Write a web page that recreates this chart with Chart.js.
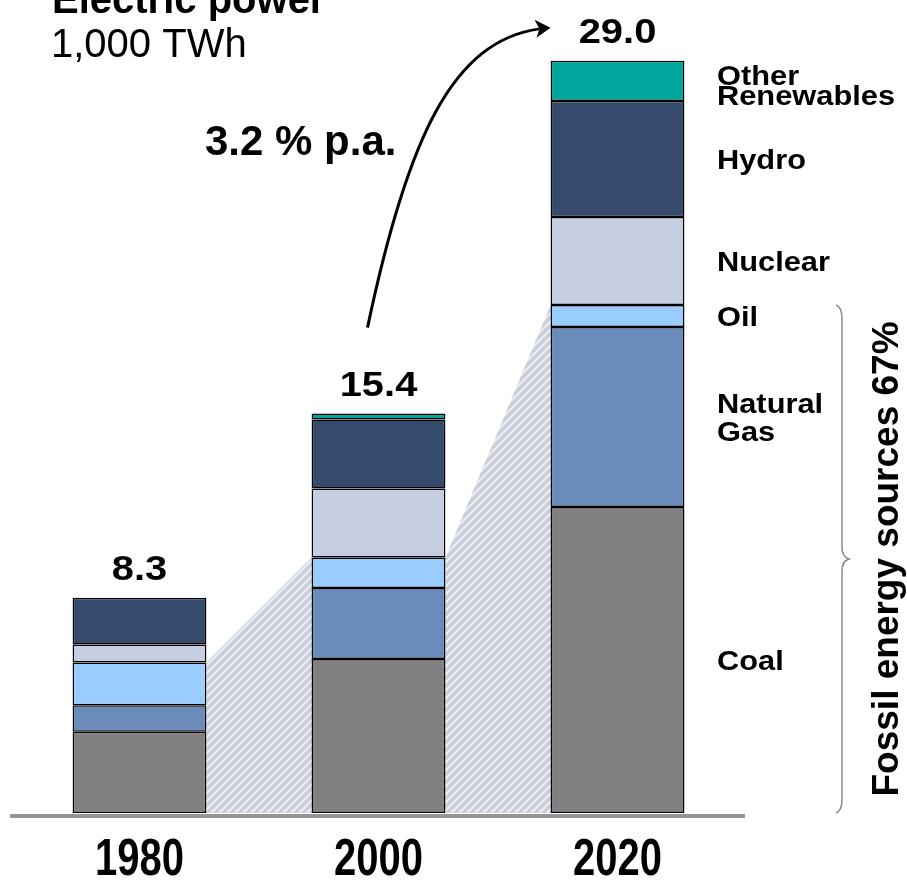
<!DOCTYPE html>
<html>
<head>
<meta charset="utf-8">
<title>Electric power</title>
<script src="https://cdn.jsdelivr.net/npm/chart.js@4.4.1/dist/chart.umd.min.js"></script>
<style>
  html, body { margin: 0; padding: 0; background: #fff; }
  #powerChart { display: block; }
</style>
</head>
<body>
<canvas id="powerChart" width="907" height="880"></canvas>
<script>
// generation by source, 1,000 TWh
const years = ['1980', '2000', '2020']
const coal = [3.13, 5.94, 11.80]
const naturalGas = [1.02, 2.74, 6.94]
const oil = [1.65, 1.17, 0.85]
const nuclear = [0.70, 2.66, 3.39]
const hydro = [1.80, 2.66, 4.47]
const otherRenewables = [null, 0.23, 1.55]

const sourceNames = [['Coal'], ['Natural', 'Gas'], ['Oil'], ['Nuclear'], ['Hydro'], ['Other', 'Renewables']]
const sourceColors = ['#808080', '#6b8cba', '#99ccff', '#c4cee0', '#364b6b', '#00a59b']
const growthLabel = '3.2 % p.a.'
const fossilLabel = 'Fossil energy sources 67%'

const FONT = '"Liberation Sans", Arial, sans-serif'
const series = [coal, naturalGas, oil, nuclear, hydro, otherRenewables]

const totals = years.map((y, i) => series.reduce((s, arr) => s + (arr[i] || 0), 0))
const fossil = years.map((y, i) => coal[i] + naturalGas[i] + oil[i])

function hatchPattern(ctx) {
  const c = document.createElement('canvas')
  c.width = 8
  c.height = 8
  const g = c.getContext('2d')
  g.fillStyle = '#c8ced8'
  g.fillRect(0, 0, 8, 8)
  g.strokeStyle = '#e8ebef'
  g.lineWidth = 2.4
  g.beginPath()
  g.moveTo(-2, 10); g.lineTo(10, -2)
  g.moveTo(-2, 2); g.lineTo(2, -2)
  g.moveTo(6, 10); g.lineTo(10, 6)
  g.stroke()
  return ctx.createPattern(c, 'repeat')
}

const decorations = {
  id: 'decorations',
  beforeDatasetsDraw(chart) {
    const ctx = chart.ctx
    const yScale = chart.scales.y
    const bars = chart.getDatasetMeta(0).data
    const base = yScale.getPixelForValue(0)
    const edge = (i, side) => bars[i].x + side * bars[i].width / 2

    // shaded band joining the fossil totals
    ctx.save()
    ctx.fillStyle = hatchPattern(ctx)
    ctx.beginPath()
    ctx.moveTo(edge(0, 1), base)
    ctx.lineTo(edge(0, 1), yScale.getPixelForValue(fossil[0]))
    for (let i = 1; i < bars.length; i++) {
      ctx.lineTo(edge(i, -1), yScale.getPixelForValue(fossil[i]))
      ctx.lineTo(edge(i, 1), yScale.getPixelForValue(fossil[i]))
    }
    ctx.lineTo(edge(bars.length - 1, 1), base)
    ctx.closePath()
    ctx.fill()
    ctx.restore()
  },
  afterDatasetsDraw(chart) {
    const ctx = chart.ctx
    const yScale = chart.scales.y
    const xScale = chart.scales.x
    const base = yScale.getPixelForValue(0)
    const last = years.length - 1
    const topOf = i => yScale.getPixelForValue(totals[i])

    ctx.save()
    // ground line
    ctx.strokeStyle = '#959595'
    ctx.lineWidth = 4
    ctx.beginPath()
    ctx.moveTo(10, base + 3)
    ctx.lineTo(745, base + 3)
    ctx.stroke()

    ctx.fillStyle = '#000'
    ctx.textAlign = 'center'
    ctx.textBaseline = 'alphabetic'

    // totals above each bar
    totals.forEach((t, i) => {
      ctx.save()
      ctx.translate(xScale.getPixelForValue(i), topOf(i) - 18)
      ctx.scale(1.05, 0.9)
      ctx.font = 'bold 38px ' + FONT
      ctx.fillText(t.toFixed(1), 0, 0)
      ctx.restore()
    })

    // year labels, tall narrow type
    years.forEach((yr, i) => {
      ctx.save()
      ctx.translate(xScale.getPixelForValue(i), 875)
      ctx.scale(1, 1.3)
      ctx.font = 'bold 40px ' + FONT
      ctx.fillText(yr, 0, 0)
      ctx.restore()
    })

    // source names beside the 2020 bar
    ctx.textAlign = 'left'
    let cum = 0
    series.forEach((arr, k) => {
      const v = arr[last] || 0
      const mid = yScale.getPixelForValue(cum + v / 2)
      cum += v
      const lines = sourceNames[k]
      const gap = k === 5 ? 19.5 : 28
      const first = mid + (k === 5 ? 14 : 10) - (lines.length - 1) * gap / 2
      lines.forEach((s, j) => {
        ctx.save()
        ctx.translate(717, first + j * gap)
        ctx.scale(1.1, 0.96)
        ctx.font = 'bold 28px ' + FONT
        ctx.fillText(s, 0, 0)
        ctx.restore()
      })
    })

    // brace around the fossil share
    const bTop = yScale.getPixelForValue(fossil[last])
    const bBot = base
    const bMid = (bTop + bBot) / 2
    const bx = 842
    ctx.strokeStyle = '#8a8a8a'
    ctx.lineWidth = 1.5
    ctx.beginPath()
    ctx.moveTo(bx - 6, bTop)
    ctx.quadraticCurveTo(bx, bTop + 2, bx, bTop + 14)
    ctx.lineTo(bx, bMid - 12)
    ctx.quadraticCurveTo(bx, bMid - 2, bx + 7, bMid)
    ctx.quadraticCurveTo(bx, bMid + 2, bx, bMid + 12)
    ctx.lineTo(bx, bBot - 14)
    ctx.quadraticCurveTo(bx, bBot - 2, bx - 6, bBot)
    ctx.stroke()

    ctx.save()
    ctx.translate(898, bMid)
    ctx.rotate(-Math.PI / 2)
    ctx.textAlign = 'center'
    ctx.font = 'bold 37px ' + FONT
    ctx.fillText(fossilLabel, 0, 0)
    ctx.restore()

    // growth arrow from the 2000 total up to the 2020 total
    const sx = xScale.getPixelForValue(1) - 11
    const sy = topOf(1) - 86
    const ex = xScale.getPixelForValue(2) - 70
    const ey = topOf(2) - 32
    ctx.strokeStyle = '#000'
    ctx.lineWidth = 3
    ctx.beginPath()
    ctx.moveTo(sx, sy)
    ctx.bezierCurveTo(sx + 40, sy - 190, ex - 95, ey + 12, ex - 8, ey)
    ctx.stroke()
    ctx.beginPath()
    ctx.moveTo(ex + 3, ey - 1)
    ctx.lineTo(ex - 13, ey - 9)
    ctx.lineTo(ex - 8, ey)
    ctx.lineTo(ex - 11, ey + 9)
    ctx.closePath()
    ctx.fillStyle = '#000'
    ctx.fill()

    ctx.font = 'bold 42px ' + FONT
    ctx.fillText(growthLabel, 205, 155)

    // heading and unit
    ctx.font = 'bold 40px ' + FONT
    ctx.fillText('Electric power', 52, 13)
    ctx.font = '40px ' + FONT
    ctx.fillText('1,000 TWh', 51, 57)
    ctx.restore()
  }
}

new Chart(document.getElementById('powerChart'), {
  type: 'bar',
  data: {
    labels: years,
    datasets: series.map((arr, k) => ({
      label: sourceNames[k].join(' '),
      data: arr,
      backgroundColor: sourceColors[k],
      borderColor: '#000',
      borderWidth: 1.5,
      borderSkipped: false,
      barPercentage: 0.56,
      categoryPercentage: 1
    }))
  },
  options: {
    responsive: false,
    animation: false,
    layout: { padding: { top: 9, bottom: 67, left: 20, right: 170 } },
    plugins: { legend: { display: false }, tooltip: { enabled: false } },
    scales: {
      x: { stacked: true, display: false },
      y: { stacked: true, display: false, min: 0, max: 31 }
    }
  },
  plugins: [decorations]
})
</script>
</body>
</html>
